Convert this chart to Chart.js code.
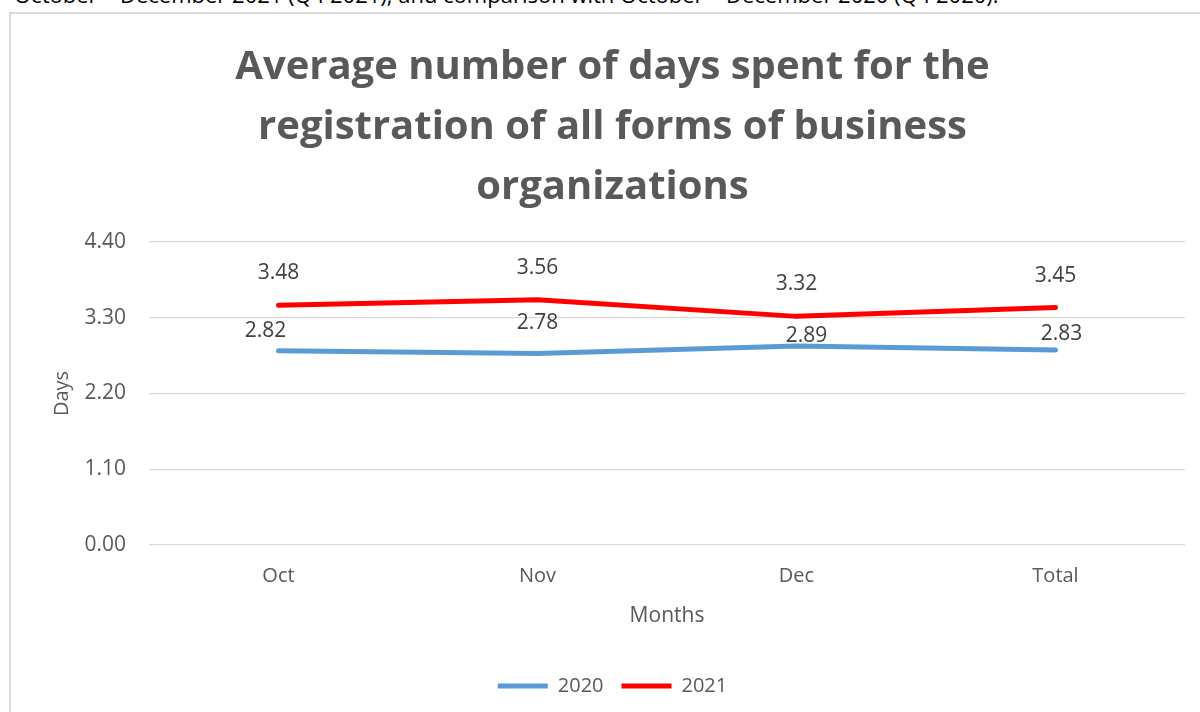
<!DOCTYPE html>
<html>
<head>
<meta charset="utf-8">
<script src="https://cdn.jsdelivr.net/npm/chart.js@4.4.0/dist/chart.umd.min.js"></script>
<style>
  html, body { margin: 0; padding: 0; background: #fff; overflow: hidden; }
  #page { position: relative; width: 1200px; height: 712px; overflow: hidden; }
  #caption { position: absolute; left: 14px; top: -21px; line-height: 30px; font: 22px "Open Sans", sans-serif; color: #000; white-space: nowrap; }
  #frame { position: absolute; left: 9px; top: 12px; width: 1200px; height: 720px; border: 2px solid #d9d9d9; box-sizing: border-box; }
  #chart { position: absolute; left: 0; top: 0; }
</style>
</head>
<body>
<div id="page">
  <div id="caption">October – December 2021 (Q4 2021), and comparison with October – December 2020 (Q4 2020).</div>
  <div id="frame"></div>
  <canvas id="chart" width="1200" height="712"></canvas>
</div>
<script>
/* Chart data. */
const months = ["Oct", "Nov", "Dec", "Total"]
const days2020 = [2.82, 2.78, 2.89, 2.83]
const days2021 = [3.48, 3.56, 3.32, 3.45]
const yTicks = [0, 1.1, 2.2, 3.3, 4.4]

const titleLines = [
  "Average number of days spent for the",
  "registration of all forms of business",
  "organizations"
]

const grey = "#595959"

/* Small plugin that writes the value above each point. */
const dataLabels = {
  id: "dataLabels",
  afterDatasetsDraw(chart, args, opts) {
    const ctx = chart.ctx
    ctx.save()
    ctx.font = opts.font
    ctx.fillStyle = opts.color
    ctx.textAlign = "center"
    ctx.textBaseline = "middle"
    chart.data.datasets.forEach((ds, i) => {
      const meta = chart.getDatasetMeta(i)
      meta.data.forEach((pt, j) => {
        const [dx, dy] = opts.offsets[i][j]
        ctx.fillText(ds.data[j].toFixed(2), pt.x + dx, pt.y + dy)
      })
    })
    ctx.restore()
  }
}

Chart.defaults.font.family = "'Open Sans', sans-serif"
Chart.defaults.color = grey

const ctx = document.getElementById("chart").getContext("2d")
const chart = new Chart(ctx, {
  type: "line",
  data: {
    labels: months,
    datasets: [{
      label: "2020",
      data: days2020,
      borderColor: "#5b9bd5",
      backgroundColor: "#5b9bd5",
      borderWidth: 5,
      borderCapStyle: "round",
      borderJoinStyle: "round",
      pointRadius: 0,
      pointHoverRadius: 0,
      tension: 0
    }, {
      label: "2021",
      data: days2021,
      borderColor: "#ff0000",
      backgroundColor: "#ff0000",
      borderWidth: 5,
      borderCapStyle: "round",
      borderJoinStyle: "round",
      pointRadius: 0,
      pointHoverRadius: 0,
      tension: 0
    }]
  },
  options: {
    responsive: false,
    animation: false,
    devicePixelRatio: 1,
    layout: {
      padding: { top: 16, left: 40, right: 15, bottom: 6 }
    },
    scales: {
      x: {
        offset: true,
        grid: { display: false },
        border: { display: false },
        ticks: { padding: 11, color: grey, font: { size: 20 } },
        title: {
          display: true,
          text: "Months",
          color: grey,
          font: { size: 21 },
          padding: { top: 0, bottom: 29 }
        },
        afterFit: scale => { scale.height = 113 }
      },
      y: {
        min: 0,
        max: 4.4,
        border: { display: false },
        grid: { color: "#d9d9d9", lineWidth: 1.3, drawTicks: false },
        afterBuildTicks: scale => { scale.ticks = yTicks.map(v => ({ value: v })) },
        ticks: {
          padding: 23,
          color: grey,
          font: { size: 21 },
          callback: v => v.toFixed(2)
        },
        title: {
          display: true,
          text: "Days",
          color: grey,
          font: { size: 20 },
          padding: { top: 10, bottom: 0 }
        },
        afterFit: scale => { scale.width = 109 }
      }
    },
    plugins: {
      title: {
        display: true,
        text: titleLines,
        color: grey,
        font: { size: 40, weight: "bold", lineHeight: 1.5 },
        padding: { top: 22, bottom: 24 }
      },
      legend: {
        display: true,
        position: "bottom",
        labels: {
          usePointStyle: true,
          pointStyle: "line",
          pointStyleWidth: 50,
          padding: 18,
          color: grey,
          font: { size: 20 }
        }
      },
      tooltip: { enabled: false },
      dataLabels: {
        font: "21px 'Open Sans', sans-serif",
        color: "#404040",
        offsets: [
          [[-13, -20], [0, -31], [10, -10], [6, -16]],
          [[0, -32], [0, -32], [0, -32], [0, -31]]
        ]
      }
    }
  },
  plugins: [dataLabels]
})
</script>
</body>
</html>
